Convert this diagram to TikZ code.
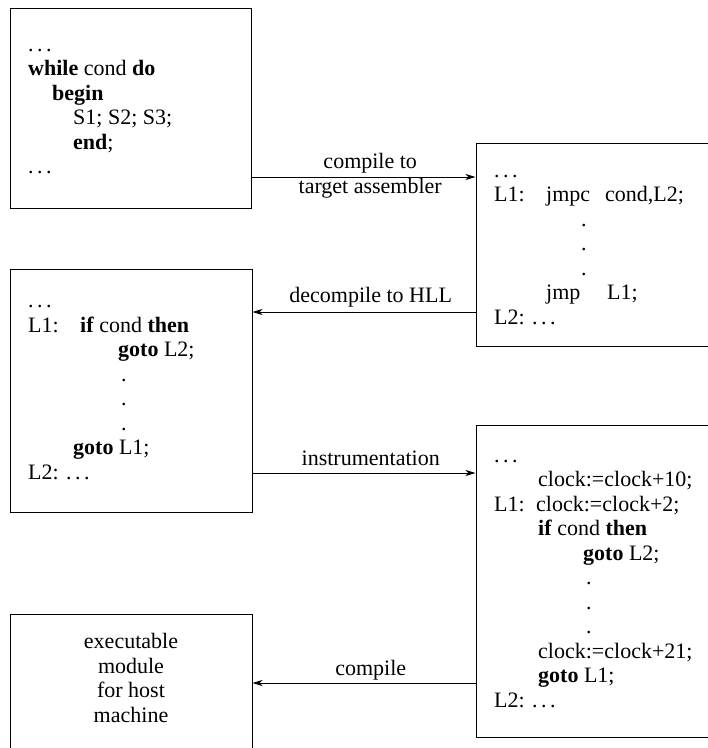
\documentclass[tikz,border=0pt]{standalone}
\usepackage{fontspec}
\setmainfont{Liberation Serif}
\usetikzlibrary{arrows.meta}
\newcommand\etc{.\hspace{3.5pt}.\hspace{3.5pt}.}
\newcommand\vdot[1]{\hspace*{#1}.}

\begin{document}
\begin{tikzpicture}[x=1pt,y=-1pt,
				box/.style={draw,line width=1pt,inner sep=0pt},
				code/.style={anchor=base west,align=left,inner sep=0pt,
									font=\fontsize{22}{24.5}\selectfont},
				flow/.style={-{Stealth[length=10pt,width=6pt,inset=3pt]},line width=0.8pt},
				lbl/.style={anchor=base,inner sep=0pt,font=\fontsize{22}{24.5}\selectfont}]
\path[use as bounding box] (0,0) rectangle (708,748);

	\node[box,minimum width=241,minimum height=200] (src) at (130.5,108) {};
	\node[box,minimum width=236,minimum height=203] (asm) at (594,244.5) {};
	\node[box,minimum width=242,minimum height=243] (hll) at (131,390.5) {};
	\node[box,minimum width=236,minimum height=312] (inst) at (594,581) {};
	\node[box,minimum width=242,minimum height=138] (exe) at (131,683) {};

	% base of a multi-line node = baseline of its last line
	\node[code] (srctxt) at (28,173.5) {\etc\\
		\textbf{while} cond \textbf{do}\\
		\hspace*{24pt}\textbf{begin}\\
		\hspace*{45pt}S1; S2; S3;\\
		\hspace*{45pt}\textbf{end};\\
		\etc};
	\node[code] (asmtxt) at (494,324) {\etc\\
		\makebox[52pt][l]{L1:}\makebox[59pt][l]{jmpc}cond,L2;\\
		\vdot{87pt}\\ \vdot{87pt}\\ \vdot{87pt}\\
		\hspace*{52pt}\makebox[61pt][l]{jmp}L1;\\
		L2: \etc};
	\node[code] (hlltxt) at (28,479) {\etc\\
		\makebox[52pt][l]{L1:}\textbf{if} cond \textbf{then}\\
		\hspace*{90pt}\textbf{goto} L2;\\
		\vdot{93pt}\\ \vdot{93pt}\\ \vdot{93pt}\\
		\hspace*{45pt}\textbf{goto} L1;\\
		L2: \etc};
	\node[code] (insttxt) at (494,707) {\etc\\
		\hspace*{44pt}clock:=clock+10;\\
		\makebox[42pt][l]{L1:}clock:=clock+2;\\
		\hspace*{44pt}\textbf{if} cond \textbf{then}\\
		\hspace*{89pt}\textbf{goto} L2;\\
		\vdot{92pt}\\ \vdot{92pt}\\ \vdot{92pt}\\
		\hspace*{44pt}clock:=clock+21;\\
		\hspace*{44pt}\textbf{goto} L1;\\
		L2: \etc};
	\node[lbl,align=center] (exetxt) at (131,722) {executable\\ module\\ for host\\ machine};

  \draw[flow] (src.east |- 0,177) -- node[lbl,pos=0.53,yshift=9pt] {compile to}
		node[lbl,pos=0.53,yshift=-16pt] {target assembler} (asm.west |- 0,177);
  \draw[flow] (asm.west |- 0,312) -- node[lbl,pos=0.47,yshift=10pt] {decompile to HLL} (hll.east |- 0,312);
  \draw[flow] (hll.east |- 0,473) -- node[lbl,pos=0.53,yshift=8pt] {instrumentation} (inst.west |- 0,473);
  \draw[flow] (inst.west |- 0,683) -- node[lbl,pos=0.47,yshift=8pt] {compile} (exe.east |- 0,683);
\end{tikzpicture}
\end{document}
